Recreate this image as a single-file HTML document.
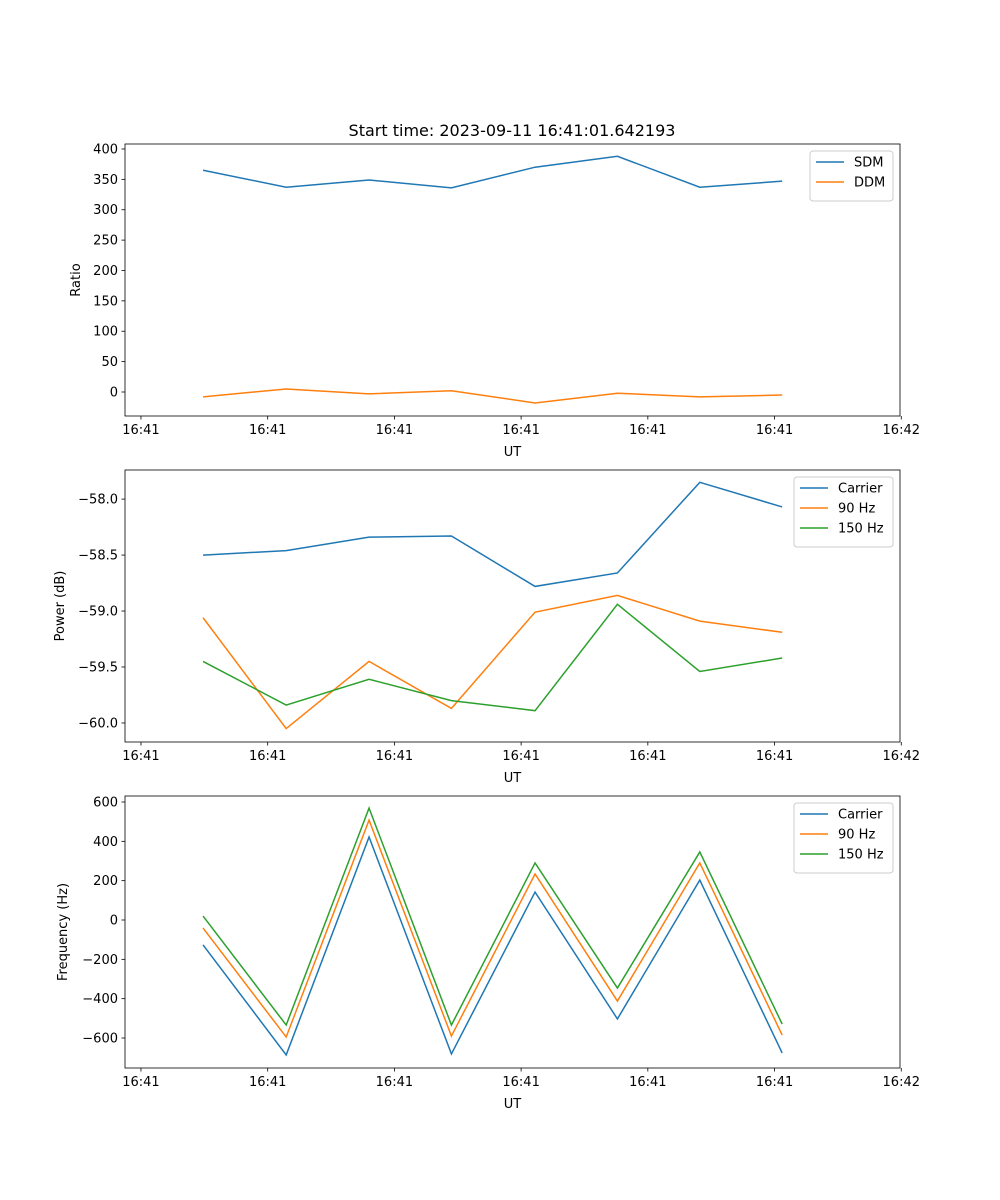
<!DOCTYPE html>
<html><head><meta charset="utf-8"><style>
body{margin:0;background:#fff;}
svg{display:block;font-family:"DejaVu Sans","Liberation Sans",sans-serif;}
</style></head><body>
<svg id="fig" width="1000" height="1200" viewBox="0 0 1000 1200" xmlns="http://www.w3.org/2000/svg">
<rect width="1000" height="1200" fill="#fff"/>
<text x="512" y="136" font-size="16" text-anchor="middle">Start time: 2023-09-11 16:41:01.642193</text>
</svg>
<script>
// Time values (seconds after 16:41:00)
const times = [4.9, 11.46, 18.0, 24.5, 31.1, 37.6, 44.1, 50.6];
const xTickVals = [0, 10, 20, 30, 40, 50, 60];
const xTickLabels = ["16:41","16:41","16:41","16:41","16:41","16:41","16:42"];
const sdm = [365, 337, 349, 336, 370, 388, 337, 347];
const ddm = [-8, 5, -3, 2, -18, -2, -8, -5];
const powCarrier = [-58.5, -58.46, -58.34, -58.33, -58.78, -58.66, -57.85, -58.07];
const pow90 = [-59.06, -60.05, -59.45, -59.87, -59.01, -58.86, -59.09, -59.19];
const pow150 = [-59.45, -59.84, -59.61, -59.80, -59.89, -58.94, -59.54, -59.42];
const freqCarrier = [-127, -686, 422, -681, 142, -503, 203, -676];
const freq90 = [-41, -595, 508, -590, 234, -412, 290, -585];
const freq150 = [20, -534, 569, -534, 290, -346, 346, -529];
const ratioTicks = [0, 50, 100, 150, 200, 250, 300, 350, 400];
const powTicks = [-60.0, -59.5, -59.0, -58.5, -58.0];
const freqTicks = [-600, -400, -200, 0, 200, 400, 600];

const NS = "http://www.w3.org/2000/svg";
const svg = document.getElementById('fig');
const L = 125, R = 900;
const xMin = -1.26, xMax = 59.9;
const xs = v => L + (v - xMin) / (xMax - xMin) * (R - L);
function mk(tag, attrs, parent) {
  const e = document.createElementNS(NS, tag);
  for (const k in attrs) e.setAttribute(k, attrs[k]);
  (parent || svg).appendChild(e);
  return e;
}
const C = {blue:"#1f77b4", orange:"#ff7f0e", green:"#2ca02c"};

function panel(name, top, bottom, yMin, yMax, yTicks, fmt, ylabel, series, legend) {
  const g = mk('g', {});
  
  
  const ys = v => bottom - (v - yMin) / (yMax - yMin) * (bottom - top);
  // series
  series.forEach(s => {
    const p = mk('polyline', {points: times.map((t, i) => xs(t) + ',' + ys(s.data[i])).join(' '), fill: 'none', stroke: s.color, 'stroke-width': 1.5}, g);
    
    
  });
  const frame = mk('rect', {x: L, y: top, width: R - L, height: bottom - top, fill: 'none', stroke: '#000', 'stroke-width': 0.8}, g);
  
  
  // x ticks
  xTickVals.forEach((v, i) => {
    const x = xs(v);
    mk('line', {x1: x, x2: x, y1: bottom, y2: bottom + 3.5, stroke: '#000', 'stroke-width': 0.8}, g);
    const t = mk('text', {x: x, y: bottom + 18, 'font-size': 13, 'text-anchor': 'middle'}, g);
    
    
    t.textContent = xTickLabels[i];
  });
  const xl = mk('text', {x: (L + R) / 2, y: bottom + 40, 'font-size': 13, 'text-anchor': 'middle'}, g);
  
  
  xl.textContent = 'UT';
  // y ticks
  yTicks.forEach(v => {
    const y = ys(v);
    mk('line', {x1: L - 3.5, x2: L, y1: y, y2: y, stroke: '#000', 'stroke-width': 0.8}, g);
    const t = mk('text', {x: L - 7, y: y + 4.5, 'font-size': 13, 'text-anchor': 'end'}, g);
    
    
    t.textContent = fmt(v);
  });
  const yl = mk('text', {x: 0, y: 0, 'font-size': 13, 'text-anchor': 'middle', transform: `translate(${legend.ylx},${(top + bottom) / 2}) rotate(-90)`}, g);
  
  
  yl.textContent = ylabel;
  // legend
  const lg = mk('g', {}, g);
  
  
  const h = 10 + series.length * 20;
  mk('rect', {x: legend.x, y: top + 7, width: legend.w, height: h, rx: 3, fill: '#fff', 'fill-opacity': 0.8, stroke: '#ccc', 'stroke-width': 1}, lg);
  series.forEach((s, i) => {
    const y = top + 18 + i * 20;
    mk('line', {x1: legend.x + 6, x2: legend.x + 34, y1: y, y2: y, stroke: s.color, 'stroke-width': 1.5}, lg);
    const t = mk('text', {x: legend.x + 44, y: y + 4.5, 'font-size': 13}, lg);
    
    
    t.textContent = s.label;
  });
}
const minus = s => s.replace('-', '\u2212');
panel('ratio', 144, 416, -39.5, 408.2, ratioTicks, v => minus(String(v)), 'Ratio',
  [{key:'sdm', label:'SDM', color:C.blue, data:sdm}, {key:'ddm', label:'DDM', color:C.orange, data:ddm}],
  {x: 810, w: 83, ylx: 80});
panel('power', 470, 742, -60.17, -57.74, powTicks, v => minus(v.toFixed(1)), 'Power (dB)',
  [{key:'carrier', label:'Carrier', color:C.blue, data:powCarrier}, {key:'90hz', label:'90 Hz', color:C.orange, data:pow90}, {key:'150hz', label:'150 Hz', color:C.green, data:pow150}],
  {x: 794, w: 99, ylx: 64});
panel('frequency', 796, 1068, -752.5, 630.5, freqTicks, v => minus(String(v)), 'Frequency (Hz)',
  [{key:'carrier', label:'Carrier', color:C.blue, data:freqCarrier}, {key:'90hz', label:'90 Hz', color:C.orange, data:freq90}, {key:'150hz', label:'150 Hz', color:C.green, data:freq150}],
  {x: 794, w: 99, ylx: 67});
</script>
</body></html>
